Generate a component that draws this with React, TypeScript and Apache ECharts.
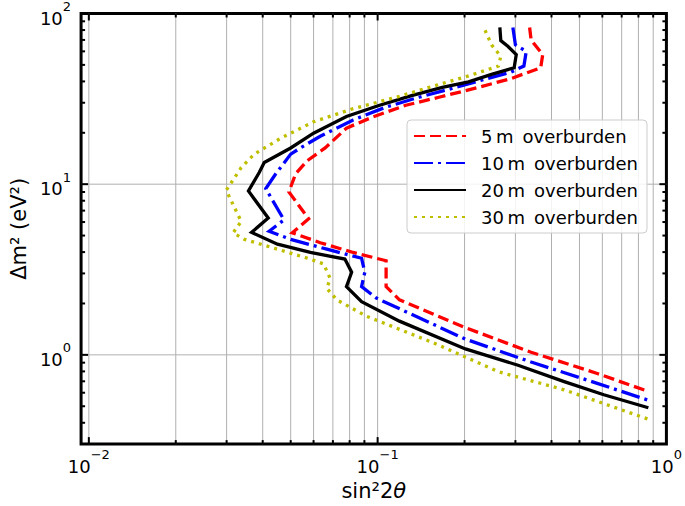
import React, { useEffect, useRef } from 'react';
import * as echarts from 'echarts';

const FONT = '"DejaVu Sans", sans-serif';

// ---- data ----
const seriesNames = [
  '5\u2009m\u2002overburden',
  '10\u2009m\u2002overburden',
  '20\u2009m\u2002overburden',
  '30\u2009m\u2002overburden',
];
const seriesColors = ['#ff0000', '#0000ff', '#000000', '#bfbf00'];

const curve5m: [number, number][] = [
  [0.336, 82.8], [0.340, 70], [0.373, 57.4], [0.367, 48.1], [0.290, 41.6], [0.2235, 36.9],
  [0.163, 32.3], [0.1253, 29.0], [0.0964, 24.8], [0.078, 21.3], [0.0658, 16.3], [0.057, 13.7],
  [0.052, 11.5], [0.0493, 9.0], [0.0577, 6.27], [0.0506, 5.19], [0.0633, 4.54], [0.0823, 3.98],
  [0.107, 3.56], [0.107, 2.51], [0.119, 2.10], [0.2014, 1.443], [0.340, 1.036], [0.576, 0.778],
  [0.866, 0.610],
];
const curve10m: [number, number][] = [
  [0.294, 82.8], [0.300, 65.5], [0.327, 60], [0.321, 49.2], [0.290, 45.4], [0.2355, 41.2],
  [0.181, 36.4], [0.139, 32.3], [0.107, 28.3], [0.0823, 23.8], [0.0633, 19.1], [0.054, 16.3],
  [0.050, 15.0], [0.0444, 11.5], [0.041, 9.41], [0.0474, 6.18], [0.0421, 5.30], [0.050, 4.75],
  [0.0667, 4.16], [0.088, 3.68], [0.0903, 3.05], [0.088, 2.51], [0.099, 2.15], [0.2014, 1.236],
  [0.340, 0.908], [0.576, 0.681], [0.866, 0.542],
];
const curve20m: [number, number][] = [
  [0.265, 82.8], [0.267, 69.4], [0.283, 64.1], [0.302, 57.4], [0.297, 48.1], [0.248, 44.0],
  [0.2065, 39.8], [0.1675, 36.9], [0.132, 33.1], [0.1016, 29.0], [0.078, 24.9], [0.060, 19.9],
  [0.050, 16.3], [0.0405, 13.4], [0.0389, 11.7], [0.0357, 9.12], [0.0418, 6.33], [0.0366, 5.22],
  [0.045, 4.45], [0.0585, 3.98], [0.077, 3.64], [0.0813, 3.05], [0.078, 2.51], [0.088, 2.05],
  [0.119, 1.576], [0.2014, 1.083], [0.3064, 0.869], [0.4426, 0.697], [0.607, 0.584], [0.866, 0.490],
];
const curve30m: [number, number][] = [
  [0.2355, 79.8], [0.248, 65.5], [0.267, 56.1], [0.262, 49.2], [0.2065, 43.1], [0.1506, 36.9],
  [0.116, 32.3], [0.0823, 27.7], [0.060, 23.2], [0.0462, 18.6], [0.0374, 15.0], [0.0337, 12.5],
  [0.0299, 9.2], [0.0337, 6.05], [0.0316, 5.19], [0.0346, 4.75], [0.045, 4.16], [0.0585, 3.64],
  [0.065, 3.41], [0.0685, 2.80], [0.0667, 2.45], [0.0722, 2.10], [0.0915, 1.684], [0.1547, 1.183],
  [0.262, 0.796], [0.4426, 0.624], [0.866, 0.42],
];
const curves = [curve5m, curve10m, curve20m, curve30m];
const dashPatterns: (number[] | 'solid')[] = [[11, 5], [19, 5, 3, 5], 'solid', [3, 5]];

const xRange = [0.0094, 1];
const yRange = [0.3, 100];
const xGridValues = [0.01, 0.02, 0.03, 0.04, 0.05, 0.06, 0.07, 0.08, 0.09, 0.1, 0.2, 0.3, 0.4, 0.5, 0.6, 0.7, 0.8, 0.9];
const xMajorTicks = [0.01, 0.1];
const xMinorTicks = [0.02, 0.03, 0.04, 0.05, 0.06, 0.07, 0.08, 0.09, 0.2, 0.3, 0.4, 0.5, 0.6, 0.7, 0.8, 0.9];
const yGridValues = [1, 10];
const yMajorTicks = [1, 10];
const yMinorTicks = [0.4, 0.5, 0.6, 0.7, 0.8, 0.9, 2, 3, 4, 5, 6, 7, 8, 9, 20, 30, 40, 50, 60, 70, 80, 90];

const xTitle = '{a|sin\u00b22}{i|\u03b8}';
const yTitle = '\u0394m\u00b2 (eV\u00b2)';

// ---- helpers ----
const labelRich = {
  b: { fontSize: 18, lineHeight: 27, verticalAlign: 'bottom', fontFamily: FONT, color: '#000' },
  s: { fontSize: 13, lineHeight: 13, verticalAlign: 'top', fontFamily: FONT, color: '#000' },
};
const powerLabel = (v: number) => {
  const e = Math.log10(v);
  const r = Math.round(e);
  if (Math.abs(e - r) > 1e-6) return '';
  const t = r < 0 ? '\u2212' + -r : String(r);
  return `{b|10}{s|${t}}`;
};

const vLines = (vals: number[], kind: 'grid' | 'tick', len = 0) => ({
  type: 'custom',
  silent: true,
  z: kind === 'grid' ? 1 : 5,
  clip: false,
  data: vals.map((v) => [v, 1]),
  encode: { x: 0, y: 1 },
  renderItem: (params: any, api: any) => {
    const cs = params.coordSys;
    const x = api.coord([api.value(0), 1])[0];
    const top = cs.y;
    const bottom = cs.y + cs.height;
    if (kind === 'grid') {
      return { type: 'line', shape: { x1: x, y1: top, x2: x, y2: bottom }, style: { stroke: '#b0b0b0', lineWidth: 1 } };
    }
    return {
      type: 'group',
      children: [
        { type: 'line', shape: { x1: x, y1: bottom, x2: x, y2: bottom - len }, style: { stroke: '#000', lineWidth: 2 } },
        { type: 'line', shape: { x1: x, y1: top, x2: x, y2: top + len }, style: { stroke: '#000', lineWidth: 2 } },
      ],
    };
  },
});

const hLines = (vals: number[], kind: 'grid' | 'tick', len = 0) => ({
  type: 'custom',
  silent: true,
  z: kind === 'grid' ? 1 : 5,
  clip: false,
  data: vals.map((v) => [0.1, v]),
  encode: { x: 0, y: 1 },
  renderItem: (params: any, api: any) => {
    const cs = params.coordSys;
    const y = api.coord([0.1, api.value(1)])[1];
    const left = cs.x;
    const right = cs.x + cs.width;
    if (kind === 'grid') {
      return { type: 'line', shape: { x1: left, y1: y, x2: right, y2: y }, style: { stroke: '#b0b0b0', lineWidth: 1 } };
    }
    return {
      type: 'group',
      children: [
        { type: 'line', shape: { x1: left, y1: y, x2: left + len, y2: y }, style: { stroke: '#000', lineWidth: 2 } },
        { type: 'line', shape: { x1: right, y1: y, x2: right - len, y2: y }, style: { stroke: '#000', lineWidth: 2 } },
      ],
    };
  },
});

export default function App() {
  const ref = useRef<HTMLDivElement>(null);
  useEffect(() => {
    if (!ref.current) return;
    const chart = echarts.init(ref.current, null, { renderer: 'svg' });
    const lineSeries = curves.map((data, i) => ({
      type: 'line',
      name: seriesNames[i],
      data,
      symbol: 'none',
      showSymbol: false,
      z: 3,
      emphasis: { disabled: true },
      itemStyle: { color: seriesColors[i] },
      lineStyle: { color: seriesColors[i], width: 3.3, type: dashPatterns[i], cap: 'butt', join: 'miter' },
    }));
    chart.setOption({
      animation: false,
      backgroundColor: '#ffffff',
      textStyle: { fontFamily: FONT },
      grid: {
        left: 78, right: 15, top: 10, bottom: 58,
        show: true, borderColor: '#000', borderWidth: 3, backgroundColor: 'transparent',
        containLabel: false,
      },
      xAxis: {
        type: 'log', logBase: 10, min: xRange[0], max: xRange[1],
        axisLine: { show: false }, axisTick: { show: false }, splitLine: { show: false },
        axisLabel: { formatter: powerLabel, rich: labelRich, margin: 4, color: '#000', fontFamily: FONT },
        name: xTitle, nameLocation: 'middle', nameGap: 34,
        nameTextStyle: {
          fontSize: 21, color: '#000', fontFamily: FONT,
          rich: {
            a: { fontSize: 21, fontFamily: FONT, color: '#000' },
            i: { fontSize: 21, fontFamily: FONT, color: '#000', fontStyle: 'italic' },
          },
        },
      },
      yAxis: {
        type: 'log', logBase: 10, min: yRange[0], max: yRange[1],
        axisLine: { show: false }, axisTick: { show: false }, splitLine: { show: false },
        axisLabel: { formatter: powerLabel, rich: labelRich, margin: 10, color: '#000', fontFamily: FONT },
        name: yTitle, nameLocation: 'middle', nameGap: 51,
        nameTextStyle: { fontSize: 21, color: '#000', fontFamily: FONT },
      },
      legend: {
        data: seriesNames,
        orient: 'vertical',
        left: 407, top: 120,
        itemWidth: 52, itemHeight: 18, itemGap: 9,
        padding: [7, 9, 7, 6],
        backgroundColor: 'rgba(255,255,255,0.85)',
        borderColor: '#cccccc', borderWidth: 1, borderRadius: 4,
        selectedMode: false,
        itemStyle: { opacity: 0 },
        textStyle: { fontSize: 18, color: '#000', fontFamily: FONT, padding: [0, 0, 0, 10] },
      },
      series: [
        vLines(xGridValues, 'grid'),
        hLines(yGridValues, 'grid'),
        ...lineSeries,
        vLines(xMajorTicks, 'tick', 7),
        vLines(xMinorTicks, 'tick', 4),
        hLines(yMajorTicks, 'tick', 7),
        hLines(yMinorTicks, 'tick', 4),
      ],
    });
    return () => chart.dispose();
  }, []);
  return (
    <div
      ref={ref}
      style={{ position: 'absolute', left: 0, top: 0, width: 685, height: 506, background: '#fff' }}
    />
  );
}
